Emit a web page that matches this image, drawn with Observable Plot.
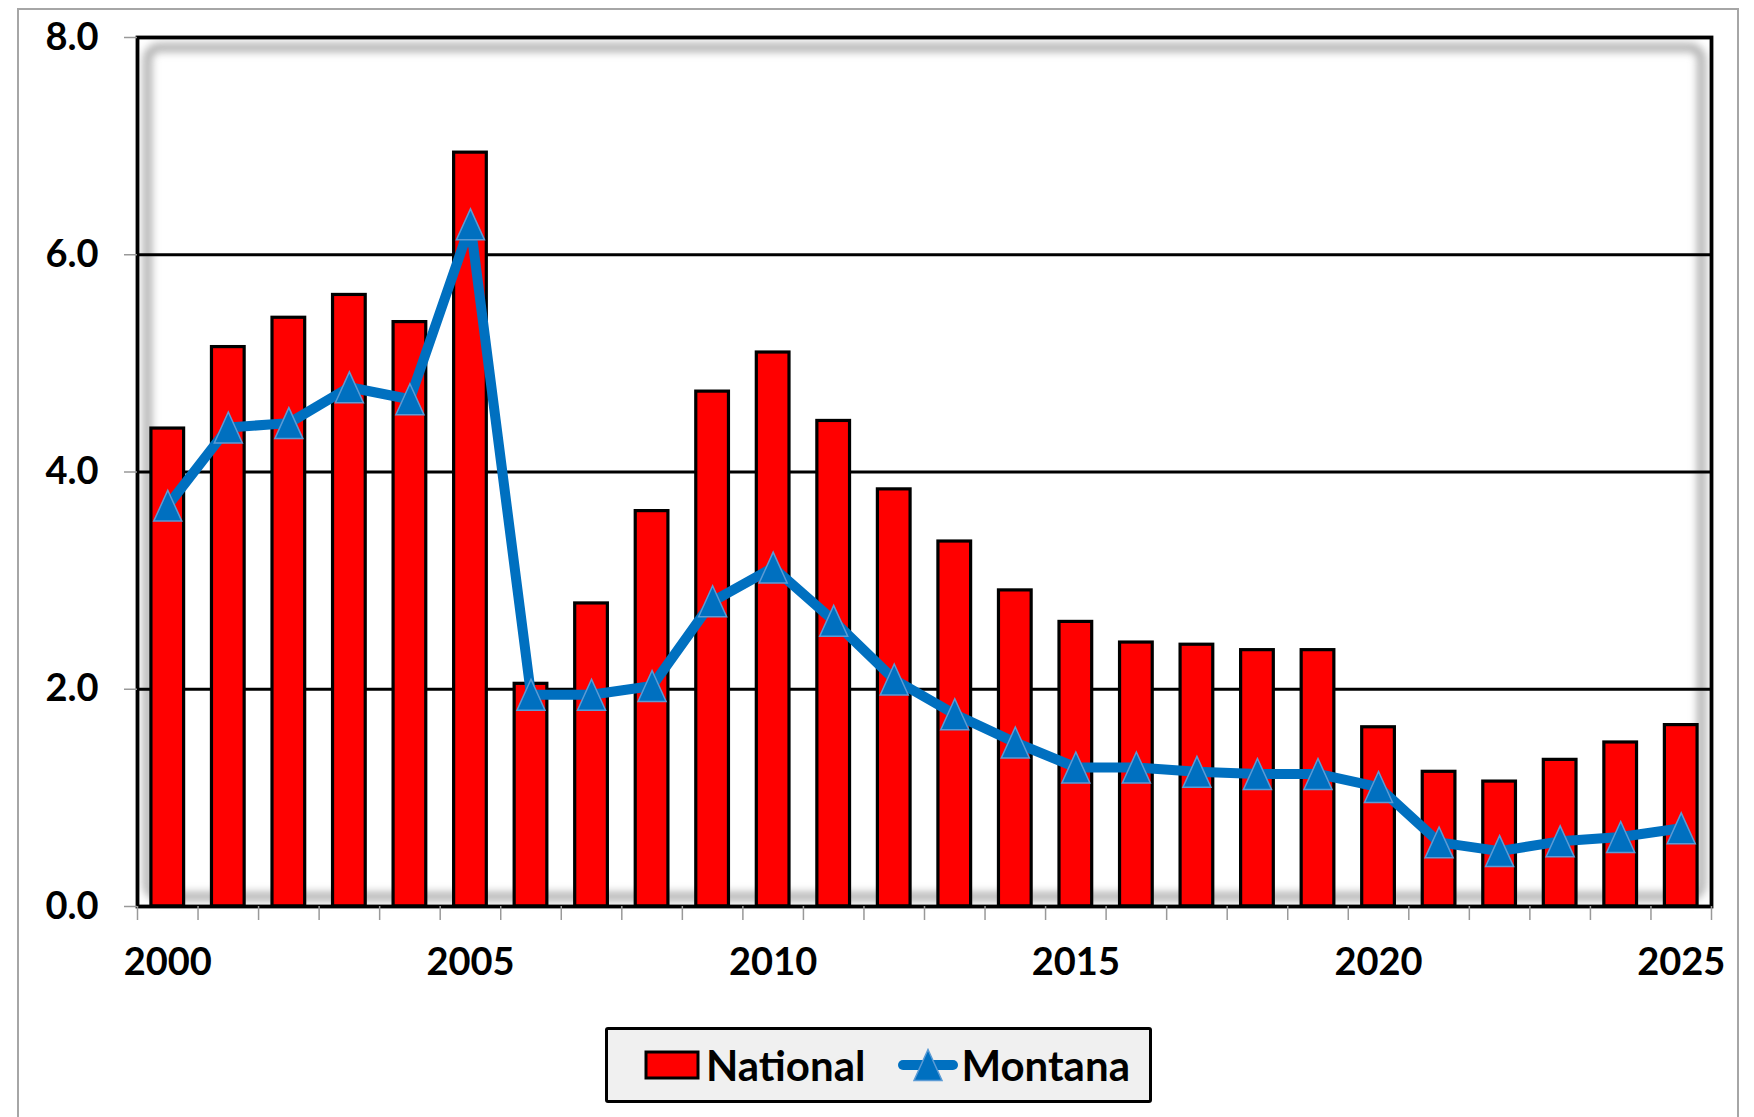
<!DOCTYPE html>
<html>
<head>
<meta charset="utf-8">
<script src="https://cdn.jsdelivr.net/npm/d3@7"></script>
<script src="https://cdn.jsdelivr.net/npm/@observablehq/plot@0.6"></script>
<style>
  body { margin: 0; background: #fff; font-family: Lato, "Open Sans", sans-serif; }
  #page { position: relative; width: 1754px; height: 1117px; overflow: hidden; background: #fff; }
  #border { position: absolute; left: 17px; top: 8px; width: 1722px; height: 1300px; border: 2px solid #a6a6a6; box-sizing: border-box; }
  #chart { position: absolute; left: 0; top: 0; }
  #legend { position: absolute; left: 605px; top: 1027px; width: 547px; height: 76px; background: #f0f0f0;
            border: 3px solid #000; box-sizing: border-box; border-radius: 3px;
            display: flex; align-items: center; font-weight: 700; font-size: 42px; color: #000; }
  #legend .item { display: flex; align-items: center; }
  #legend svg { display: block; }
</style>
</head>
<body>
<div id="page">
  <div id="border"></div>
  <div id="chart"></div>
  <div id="legend"></div>
</div>
<script>
// ---- data ----
const years = d3.range(2000, 2026);
const national = [4.40, 5.15, 5.42, 5.63, 5.38, 6.94, 2.05, 2.79, 3.64, 4.74, 5.10, 4.47, 3.84, 3.36, 2.91, 2.62, 2.43, 2.41, 2.36, 2.36, 1.65, 1.24, 1.15, 1.35, 1.51, 1.67];
const montana  = [3.69, 4.41, 4.45, 4.78, 4.67, 6.28, 1.95, 1.95, 2.03, 2.81, 3.12, 2.63, 2.09, 1.77, 1.51, 1.28, 1.28, 1.24, 1.22, 1.22, 1.10, 0.59, 0.51, 0.60, 0.64, 0.72];
const yTicks = [0, 2, 4, 6, 8];
const xLabelTicks = [2000, 2005, 2010, 2015, 2020, 2025];
const seriesNames = ["National", "Montana"];

const rows = years.map((y, i) => ({year: y, national: national[i], montana: montana[i]}));

const RED = "#ff0000", BLUE = "#0070c0", BLUE_EDGE = "#5b9bd5";
const halfBar = 0.27;
const MARKER_R = 10.3;

// Excel-like triangle marker: a bit taller than wide, centred on its bounding box
const excelTriangle = {
  draw(context, size) {
    const r = Math.sqrt(size / Math.PI);
    const w = 2.72 * r, h = 3 * r;
    context.moveTo(0, -h / 2);
    context.lineTo(w / 2, h / 2);
    context.lineTo(-w / 2, h / 2);
    context.closePath();
  }
};

const svg = Plot.plot({
  width: 1754,
  height: 1010,
  marginLeft: 137,
  marginRight: 43,
  marginTop: 37,
  marginBottom: 104,
  style: {fontFamily: "Lato, 'Open Sans', sans-serif", fontWeight: "bold", fontSize: "38px", color: "#000", background: "transparent"},
  x: {type: "linear", domain: [years[0] - 0.5, years[years.length - 1] + 0.5], label: null},
  y: {domain: [0, 8], label: null},
  marks: [
    Plot.frame({inset: 10, stroke: "#a8a8a8", strokeWidth: 8, rx: 12, ariaLabel: "shadow"}),
    Plot.ruleY([2, 4, 6], {stroke: "#000", strokeWidth: 3}),
    Plot.rectY(rows, {x1: d => d.year - halfBar, x2: d => d.year + halfBar, y1: 0, y2: "national", fill: RED, stroke: "#000", strokeWidth: 3.2}),
    Plot.line(rows, {x: "year", y: "montana", stroke: BLUE, strokeWidth: 10, strokeLinejoin: "round", strokeLinecap: "round"}),
    Plot.dot(rows, {x: "year", y: "montana", symbol: excelTriangle, r: MARKER_R, fill: BLUE, stroke: BLUE_EDGE, strokeWidth: 1.5}),
    Plot.frame({stroke: "#000", strokeWidth: 3.8}),
    Plot.axisY({ticks: yTicks, tickSize: 13, stroke: "#999", strokeWidth: 1.5, tickPadding: 26, tickFormat: d3.format(".1f"), fill: "#000", fontSize: 38, fontWeight: "bold", label: null}),
    Plot.axisX({ticks: d3.range(years[0] - 0.5, years[years.length - 1] + 1, 1), tickSize: 14, stroke: "#999", strokeWidth: 1.5, tickFormat: () => "", label: null}),
    Plot.axisX({ticks: xLabelTicks, tickSize: 0, tickPadding: 42, tickFormat: d => String(d), fill: "#000", fontSize: 38, fontWeight: "bold", label: null})
  ]
});

// blur filter for the inner glow/shadow
const s = d3.select(svg);
const defs = s.insert("defs", ":first-child");
const f = defs.append("filter").attr("id", "glowblur").attr("x", "-10%").attr("y", "-10%").attr("width", "120%").attr("height", "120%");
f.append("feGaussianBlur").attr("stdDeviation", 4);
s.selectAll('[aria-label="shadow"]').attr("filter", "url(#glowblur)");

document.getElementById("chart").appendChild(svg);

// ---- legend ----
const legend = d3.select("#legend");
const it1 = legend.append("div").attr("class", "item").style("margin-left", "36px");
const sw1 = it1.append("svg").attr("width", 58).attr("height", 30);
sw1.append("rect").attr("x", 2).attr("y", 2).attr("width", 52).attr("height", 26).attr("fill", RED).attr("stroke", "#000").attr("stroke-width", 3);
it1.append("span").style("margin-left", "4px").text(seriesNames[0]);

const it2 = legend.append("div").attr("class", "item").style("margin-left", "32px");
const sw2 = it2.append("svg").attr("width", 62).attr("height", 36);
sw2.append("line").attr("x1", 6).attr("x2", 56).attr("y1", 18).attr("y2", 18).attr("stroke", BLUE).attr("stroke-width", 10).attr("stroke-linecap", "round");
sw2.append("path").attr("transform", "translate(31,18)").attr("d", d3.symbol(excelTriangle, Math.PI * MARKER_R * MARKER_R)()).attr("fill", BLUE).attr("stroke", BLUE_EDGE).attr("stroke-width", 1.5);
it2.append("span").style("margin-left", "2px").text(seriesNames[1]);
</script>
</body>
</html>
